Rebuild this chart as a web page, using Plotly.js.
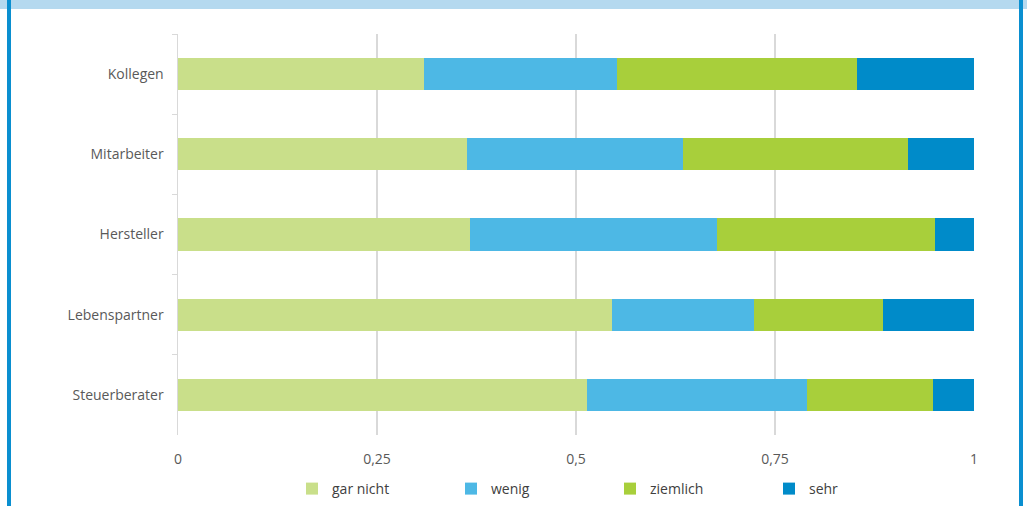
<!DOCTYPE html>
<html><head><meta charset="utf-8">
<script src="https://cdn.plot.ly/plotly-3.0.1.min.js"></script>
<style>html,body{margin:0;padding:0;background:#fff}#chart{width:1027px;height:506px}</style>
</head><body><div id="chart"></div>
<script>
const categories = ["Kollegen", "Mitarbeiter", "Hersteller", "Lebenspartner", "Steuerberater"];
const seriesNames = ["gar nicht", "wenig", "ziemlich", "sehr"];
const garNicht = [0.309, 0.363, 0.367, 0.545, 0.514];
const wenig    = [0.243, 0.271, 0.310, 0.178, 0.276];
const ziemlich = [0.301, 0.283, 0.274, 0.163, 0.158];
const sehr     = [0.147, 0.083, 0.049, 0.114, 0.052];
const xTickVals = [0, 0.25, 0.5, 0.75, 1];
const xTickText = ["0", "0,25", "0,5", "0,75", "1"];
const colors = ["#c9df8a", "#4db8e5", "#a8cf3b", "#008bc9"];

const seriesData = [garNicht, wenig, ziemlich, sehr];
const traces = seriesData.map((vals, i) => ({
  type: "bar", orientation: "h", name: seriesNames[i],
  y: categories, x: vals,
  marker: {color: colors[i], line: {width: 0}},
  hoverinfo: "x+name"
}));

const W = 796, H = 401, L = 178, T = 34;
const px = v => (v - L) / W;
const py = v => (T + H - v) / H;

const layout = {
  width: 1027, height: 506,
  margin: {l: L, r: 1027 - L - W, t: T, b: 506 - T - H, autoexpand: false},
  barmode: "stack", bargap: 0.6,
  paper_bgcolor: "#fff", plot_bgcolor: "#fff",
  font: {family: "Open Sans, sans-serif", size: 14, color: "#595959"},
  showlegend: true,
  legend: {orientation: "h", x: px(292), xanchor: "left", y: py(489), yanchor: "middle",
           entrywidth: 114, font: {size: 14, color: "#404040"}, traceorder: "normal"},
  xaxis: {range: [0, 1], tickvals: xTickVals, ticktext: xTickText,
          showgrid: true, gridcolor: "#d9d9d9", gridwidth: 1.5, zeroline: false,
          showline: false, ticks: "", ticklabelstandoff: 14, fixedrange: true},
  yaxis: {autorange: "reversed", showline: true, linecolor: "#d9d9d9", linewidth: 1.5,
          ticks: "outside", tickson: "boundaries", ticklen: 5, tickcolor: "#d9d9d9",
          ticklabelstandoff: 10, showgrid: false, fixedrange: true},
  shapes: [
    {type: "rect", xref: "paper", yref: "paper", x0: px(0), x1: px(1027), y0: py(9), y1: py(0),
     fillcolor: "#b5d9ef", line: {width: 0}, layer: "below"},
    {type: "rect", xref: "paper", yref: "paper", x0: px(7), x1: px(11), y0: py(506), y1: py(0),
     fillcolor: "#0a8fd0", line: {width: 0}},
    {type: "rect", xref: "paper", yref: "paper", x0: px(1019), x1: px(1023), y0: py(506), y1: py(0),
     fillcolor: "#0a8fd0", line: {width: 0}}
  ]
};
Plotly.newPlot("chart", traces, layout, {displayModeBar: false, staticPlot: true});
</script></body></html>
